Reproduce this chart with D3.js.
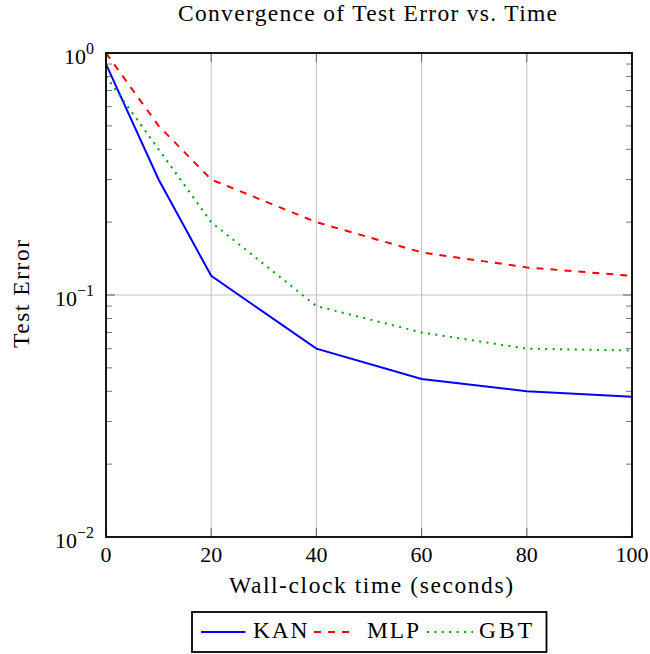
<!DOCTYPE html>
<html><head><meta charset="utf-8">
<script src="https://cdn.jsdelivr.net/npm/d3@7"></script>
<style>body{margin:0;background:#fff}</style>
</head><body><svg id="c" width="650" height="654"></svg>
<script>
const times=[0,10,20,40,60,80,100];
const kan=[0.9,0.3,0.12,0.06,0.045,0.04,0.038];
const mlp=[1.0,0.5,0.3,0.2,0.15,0.13,0.12];
const gbt=[0.8,0.4,0.2,0.09,0.07,0.06,0.059];
const xTicks=[0,20,40,60,80,100];
const yTickExps=[0,-1,-2];
const seriesNames=["KAN","MLP","GBT"];
const titleText="Convergence of Test Error vs. Time";
const xLabelText="Wall-clock time (seconds)";
const yLabelText="Test Error";

const FONT="'Liberation Serif','Times New Roman',serif";
const svg=d3.select("#c");
const L=106,R=632,T=53,B=537;
const x=d3.scaleLinear().domain([0,100]).range([L,R]);
const y=d3.scaleLog().domain([0.01,1]).range([B,T]);

function spread(sel,target){sel.attr("textLength",target).attr("lengthAdjust","spacing");}

// grid
const g=svg.append("g");
g.selectAll(".vg").data(xTicks.filter(d=>d>0&&d<100)).enter().append("line")
 .attr("x1",d=>x(d)).attr("x2",d=>x(d)).attr("y1",T).attr("y2",B)
 .attr("stroke","#c4c4c4").attr("stroke-width",1.1);
g.append("line").attr("x1",L).attr("x2",R).attr("y1",y(0.1)).attr("y2",y(0.1))
 .attr("stroke","#c4c4c4").attr("stroke-width",1.1);

// minor y ticks
const minors=[];
[0.01,0.1].forEach(b=>{for(let k=2;k<=9;k++)minors.push(b*k);});
g.selectAll(".mtl").data(minors).enter().append("line")
 .attr("x1",L).attr("x2",L+6).attr("y1",d=>y(d)).attr("y2",d=>y(d))
 .attr("stroke","#666").attr("stroke-width",0.9);
g.selectAll(".mtr").data(minors).enter().append("line")
 .attr("x1",R-6).attr("x2",R).attr("y1",d=>y(d)).attr("y2",d=>y(d))
 .attr("stroke","#666").attr("stroke-width",0.9);
// major y ticks
g.selectAll(".Mtl").data(yTickExps.map(e=>Math.pow(10,e))).enter().append("line")
 .attr("x1",L).attr("x2",L+9).attr("y1",d=>y(d)).attr("y2",d=>y(d))
 .attr("stroke","#555").attr("stroke-width",0.9);
g.selectAll(".Mtr").data(yTickExps.map(e=>Math.pow(10,e))).enter().append("line")
 .attr("x1",R-9).attr("x2",R).attr("y1",d=>y(d)).attr("y2",d=>y(d))
 .attr("stroke","#555").attr("stroke-width",0.9);
// major x ticks
g.selectAll(".xtb").data(xTicks).enter().append("line")
 .attr("x1",d=>x(d)).attr("x2",d=>x(d)).attr("y1",B).attr("y2",B-9)
 .attr("stroke","#555").attr("stroke-width",0.9);
g.selectAll(".xtt").data(xTicks).enter().append("line")
 .attr("x1",d=>x(d)).attr("x2",d=>x(d)).attr("y1",T).attr("y2",T+9)
 .attr("stroke","#555").attr("stroke-width",0.9);

// lines
const styles=[
 {data:kan,color:"#0000ff",dash:null},
 {data:mlp,color:"#ff0000",dash:"7,7"},
 {data:gbt,color:"#00a000",dash:"2,5.4"}
];
svg.append("clipPath").attr("id","clp").append("rect").attr("x",L).attr("y",T).attr("width",R-L).attr("height",B-T);
const line=d3.line().x((d,i)=>x(times[i])).y(d=>y(d));
styles.forEach(s=>{
 svg.append("path").attr("d",line(s.data)).attr("fill","none")
  .attr("stroke",s.color).attr("stroke-width",2)
  .attr("stroke-dasharray",s.dash).attr("clip-path","url(#clp)");
});

// frame
svg.append("rect").attr("x",L).attr("y",T).attr("width",R-L).attr("height",B-T)
 .attr("fill","none").attr("stroke","#000").attr("stroke-width",1.8);

// x tick labels
svg.selectAll(".xl").data(xTicks).enter().append("text")
 .attr("x",d=>x(d)).attr("y",562).attr("text-anchor","middle")
 .attr("font-family",FONT).attr("font-size",22).text(d=>d);
// y tick labels
yTickExps.forEach(e=>{
 const t=svg.append("text").attr("x",94).attr("y",y(Math.pow(10,e))+10.5)
  .attr("text-anchor","end").attr("font-family",FONT).attr("font-size",22);
 t.append("tspan").text("10");
 t.append("tspan").attr("dy",-10).attr("font-size",16).text(e<0?"\u2212"+(-e):String(e));
});

// title & axis labels
const tt=svg.append("text").attr("x",367.5).attr("y",21).attr("text-anchor","middle")
 .attr("font-family",FONT).attr("font-size",23.5).text(titleText);
spread(tt,379);
const xl=svg.append("text").attr("x",371).attr("y",593).attr("text-anchor","middle")
 .attr("font-family",FONT).attr("font-size",23.5).text(xLabelText);
spread(xl,284);
const yl=svg.append("text").attr("transform","translate(28.5,294) rotate(-90)").attr("text-anchor","middle")
 .attr("font-family",FONT).attr("font-size",23.5).text(yLabelText);
spread(yl,108);

// legend
svg.append("rect").attr("x",192).attr("y",612).attr("width",354.5).attr("height",40)
 .attr("fill","#fff").attr("stroke","#000").attr("stroke-width",1.8);
const legX=[[201,245.5,253,307.5],[314,355,367,419],[427,473,479,532]];
styles.forEach((s,i)=>{
 svg.append("line").attr("x1",legX[i][0]).attr("x2",legX[i][1]).attr("y1",632).attr("y2",632)
  .attr("stroke",s.color).attr("stroke-width",2).attr("stroke-dasharray",s.dash);
 const t=svg.append("text").attr("x",legX[i][2]).attr("y",637.5)
  .attr("font-family",FONT).attr("font-size",23.5).text(seriesNames[i]);
 spread(t,legX[i][3]-legX[i][2]);
});
</script></body></html>
